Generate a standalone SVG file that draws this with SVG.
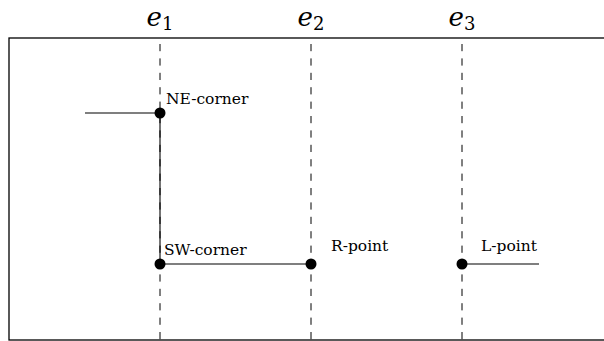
<svg xmlns="http://www.w3.org/2000/svg" width="604" height="341" viewBox="0 0 604 341">
<style>
.frame{fill:none;stroke:#000;stroke-width:1.3}
.guide{stroke:#000;stroke-width:1;stroke-dasharray:7.2 7.2}
.edge{stroke:#000;stroke-width:1.1;fill:none}
.dot{fill:#000}
.lbl{font-family:"DejaVu Serif","Liberation Serif",serif;font-size:15.5px;fill:#000}
.ev{font-family:"DejaVu Serif","Liberation Serif",serif;font-size:26px;fill:#000}
.ev .v{font-style:italic}
.ev .s{font-size:18px;font-style:normal}
</style>
<rect class="frame" x="9" y="38" width="610" height="302"/>
<g id="headers">
<text class="ev" x="160" y="26" text-anchor="middle"><tspan class="v">e</tspan><tspan class="s" dy="4">1</tspan></text>
<text class="ev" x="311" y="26" text-anchor="middle"><tspan class="v">e</tspan><tspan class="s" dy="4">2</tspan></text>
<text class="ev" x="462" y="26" text-anchor="middle"><tspan class="v">e</tspan><tspan class="s" dy="4">3</tspan></text>
</g>
<g id="guides">
<line class="guide" x1="160" y1="44" x2="160" y2="340"/>
<line class="guide" x1="311" y1="44" x2="311" y2="340"/>
<line class="guide" x1="462" y1="44" x2="462" y2="340"/>
</g>
<g id="connectors">
<line class="edge" x1="85" y1="113" x2="160" y2="113"/>
<line class="edge" x1="160" y1="113" x2="160" y2="264"/>
<line class="edge" x1="160" y1="264" x2="311" y2="264"/>
<line class="edge" x1="462" y1="264" x2="539" y2="264"/>
</g>
<g id="ne-corner">
<circle class="dot" cx="160" cy="113" r="5.5"/>
<text class="lbl" x="166" y="104">NE-corner</text>
</g>
<g id="sw-corner">
<circle class="dot" cx="160" cy="264" r="5.5"/>
<text class="lbl" x="164" y="255">SW-corner</text>
</g>
<g id="r-point">
<circle class="dot" cx="311" cy="264" r="5.5"/>
<text class="lbl" x="331" y="251">R-point</text>
</g>
<g id="l-point">
<circle class="dot" cx="462" cy="264" r="5.5"/>
<text class="lbl" x="481" y="251">L-point</text>
</g>
</svg>
